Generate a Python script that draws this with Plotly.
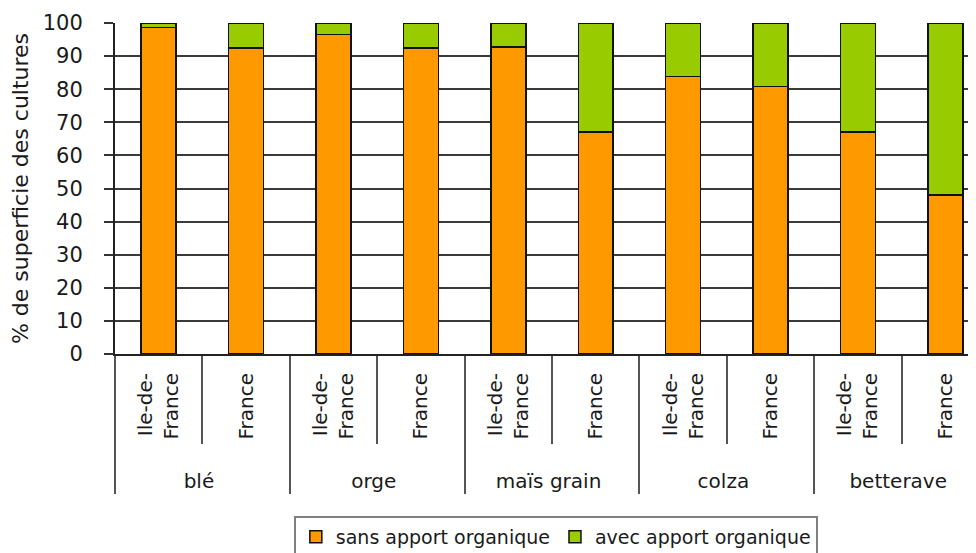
import plotly.graph_objects as go

cultures = ["blé", "orge", "maïs grain", "colza", "betterave"]
zones = ["Ile-de-<br>France", "France"]
sans_apport = [98.7, 92.5, 96.6, 92.4, 92.8, 67.0, 83.8, 80.8, 67.0, 48.0]
avec_apport = [1.3, 7.5, 3.4, 7.6, 7.2, 33.0, 16.2, 19.2, 33.0, 52.0]
y_ticks = list(range(0, 101, 10))

# leading non-breaking spaces push the rotated labels' box down a bit
PAD = "\u00a0" * 3
x_outer = [c for c in cultures for z in zones]
x_inner = ["<br>".join(PAD + part for part in z.split("<br>")) for c in cultures for z in zones]

FONT = "DejaVu Sans"
TXT = "#1a1a1a"

fig = go.Figure()
fig.add_trace(go.Bar(
    x=[x_outer, x_inner], y=sans_apport, name="sans apport organique",
    marker=dict(color="#FF9900", line=dict(color="#111111", width=1.5)),
    width=0.4
))
fig.add_trace(go.Bar(
    x=[x_outer, x_inner], y=avec_apport, name="avec apport organique",
    marker=dict(color="#99CC00", line=dict(color="#111111", width=1.5)),
    width=0.4
))

# page body has an 8px margin, so the figure is a bit smaller than the window
fig.update_layout(
    width=968, height=545,
    margin=dict(l=107, r=0, t=15, b=199, autoexpand=False),
    barmode="stack",
    plot_bgcolor="white", paper_bgcolor="white",
    font=dict(family=FONT, size=19, color=TXT),
    legend=dict(
        orientation="h", traceorder="normal",
        x=0.512, xanchor="center", y=-0.489, yanchor="top",
        bordercolor="#808080", borderwidth=2,
        font=dict(family=FONT, size=19, color=TXT)
    ),
)
fig.update_xaxes(
    type="multicategory", range=[-0.5, 9.35],
    showline=True, linecolor="#222222", linewidth=2,
    showgrid=False, tickangle=-90,
    ticks="outside", tickson="boundaries", ticklen=88, tickcolor="#555555", tickwidth=2,
    ticklabelstandoff=9,
    showdividers=True, dividercolor="#555555", dividerwidth=2,
    tickfont=dict(family=FONT, size=20, color=TXT)
)
fig.update_yaxes(
    range=[0, 100], tickvals=y_ticks,
    showline=True, linecolor="#222222", linewidth=2,
    showgrid=True, gridcolor="#3a3a3a", gridwidth=1.5,
    ticks="outside", ticklen=9, tickcolor="#333333", tickwidth=1.5,
    ticklabelstandoff=17,
    title=dict(text="% de superficie des cultures", font=dict(family=FONT, size=22, color=TXT), standoff=20),
    tickfont=dict(family=FONT, size=21, color=TXT)
)

fig.write_html("out.html")
